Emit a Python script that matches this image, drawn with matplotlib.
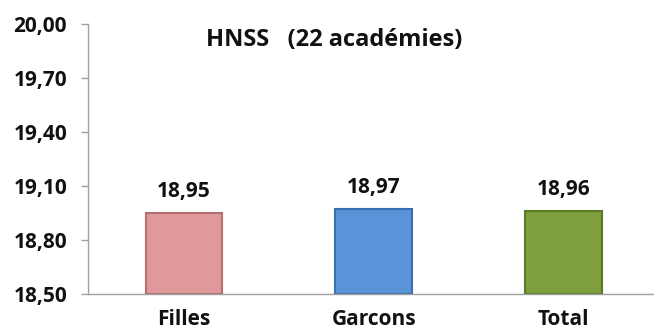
import matplotlib
matplotlib.use('Agg')
import matplotlib.pyplot as plt
from matplotlib.ticker import FuncFormatter

categories = ['Filles', 'Garcons', 'Total']
values = [18.95, 18.97, 18.96]
colors = ['#E0999A', '#5B93D8', '#7F9E3E']
edges = ['#B56E70', '#3A6FB0', '#5C7A26']
y_ticks = [18.50, 18.80, 19.10, 19.40, 19.70, 20.00]

plt.rcParams['font.family'] = ['Open Sans', 'DejaVu Sans']
plt.rcParams['font.weight'] = 'bold'

fig = plt.figure(figsize=(6.54, 3.33), dpi=100)
ax = fig.add_axes([88 / 654, 1 - 294 / 333, 565 / 654, 270 / 333])

x = range(len(categories))
bars = ax.bar(x, [v - 18.5 for v in values], bottom=18.5, width=0.405,
              color=colors, edgecolor=edges, linewidth=1.5, zorder=2)
# lighter inner face to give a bevel look
ax.bar(x, [v - 18.5 - 0.03 for v in values], bottom=18.515, width=0.355,
       color=colors, edgecolor='none', alpha=0.6, zorder=3)

for xi, v in zip(x, values):
    ax.annotate(f'{v:.2f}'.replace('.', ','), (xi, v), xytext=(0, 8),
                textcoords='offset points', ha='center', va='bottom',
                fontsize=15, fontweight='bold', color='#111111')

ax.set_xlim(-0.506, 2.472)
ax.set_ylim(18.5, 20.0)
ax.set_yticks(y_ticks)
ax.yaxis.set_major_formatter(FuncFormatter(lambda v, p: f'{v:.2f}'.replace('.', ',')))
ax.set_xticks(list(x))
ax.set_xticklabels(categories)

ax.tick_params(axis='y', length=5, width=1, color='#A0A0A0', pad=10,
               labelsize=15, labelcolor='#111111')
ax.tick_params(axis='x', length=0, pad=11, labelsize=15, labelcolor='#111111')

for s in ['top', 'right']:
    ax.spines[s].set_visible(False)
for s in ['left', 'bottom']:
    ax.spines[s].set_color('#A0A0A0')
    ax.spines[s].set_linewidth(1)

ax.text(0.435, 0.94, 'HNSS   (22 académies)', transform=ax.transAxes,
        ha='center', va='center', fontsize=17, fontweight='bold', color='#111111')

fig.savefig('out.png', dpi=100)
